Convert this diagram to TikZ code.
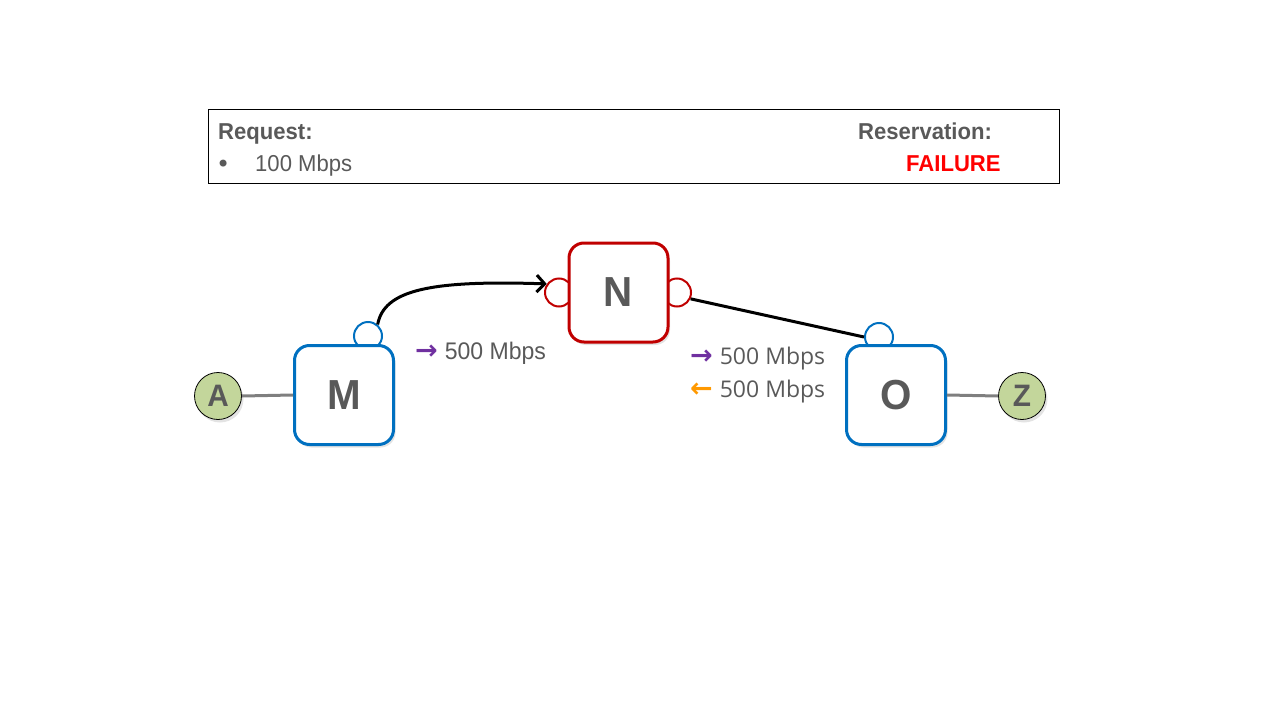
\documentclass[tikz,border=0pt]{standalone}
\usepackage{fontspec}
\setmainfont[FakeStretch=0.96]{Liberation Sans}
\newfontfamily\labelfont{Open Sans}
\newfontfamily\symfont{DejaVu Sans}
\usetikzlibrary{arrows.meta,shadows}

\definecolor{txtgray}{HTML}{595959}
\definecolor{nodeblue}{HTML}{0070C0}
\definecolor{nodered}{HTML}{C00000}
\definecolor{endgreen}{HTML}{C3D69B}
\definecolor{fwdpurple}{HTML}{7030A0}
\definecolor{revorange}{HTML}{FF9900}
\definecolor{linkgray}{HTML}{7F7F7F}

\newcommand{\dirarrow}[2]{{\color{#1}\symfont\bfseries\fontsize{27}{27}\selectfont #2}}

\tikzset{
  softshadow/.style={drop shadow={opacity=0.22, shadow xshift=2pt, shadow yshift=-3pt}},
  switchbox/.style={draw=#1, line width=3pt, fill=white, rounded corners=15pt,
    minimum width=99pt, minimum height=99pt, inner sep=0pt, softshadow,
    font=\fontsize{42}{42}\selectfont\bfseries, text=txtgray},
  port/.style={circle, draw=#1, line width=2pt, fill=white, minimum size=28pt, inner sep=0pt},
  endpoint/.style={circle, draw=black, line width=0.8pt, fill=endgreen, minimum size=47pt,
    inner sep=0pt, softshadow, font=\fontsize{31}{31}\selectfont\bfseries, text=txtgray},
  accesslink/.style={draw=linkgray, line width=3pt},
  trunk/.style={draw=black, line width=3pt},
  boxtext/.style={anchor=base west, inner sep=0pt, text=txtgray, font=\fontsize{23}{23}\selectfont},
  bwtext/.style={anchor=base west, inner sep=0pt, text=txtgray},
}

\begin{document}
\begin{tikzpicture}[x=1pt, y=-1pt]
  \useasboundingbox (0,0) rectangle (1280,720);

  % request / reservation panel
  \node[draw=black, line width=0.8pt, minimum width=851pt, minimum height=74pt, inner sep=0pt]
    (panel) at (633.5,146) {};
  \node[boxtext, font=\fontsize{23}{23}\selectfont\bfseries] (req) at (218,139) {Request:};
  \node[boxtext] (bullet) at (216,172) {\symfont\fontsize{24}{24}\selectfont •};
  \node[boxtext] (reqbw) at (255,171) {100 Mbps};
  \node[boxtext, font=\fontsize{23}{23}\selectfont\bfseries] (res) at (858,139) {Reservation:};
  \node[boxtext, text=red, font=\fontsize{23}{23}\selectfont\bfseries] (status) at (906,171) {FAILURE};

  % ports (drawn first so the switch boxes cover their lower halves)
  \node[port=nodeblue] (mp) at (368,336) {};
  \node[port=nodered] (nl) at (559,292.5) {};
  \node[port=nodered] (nr) at (677,292.5) {};
  \node[port=nodeblue] (op) at (879,337) {};

  % switches
  \node[switchbox=nodeblue] (M) at (344,395) {M};
  \node[switchbox=nodered] (N) at (618.5,292.5) {N};
  \node[switchbox=nodeblue] (O) at (896,395) {O};

  % end hosts
  \node[endpoint] (A) at (218,396) {A};
  \node[endpoint] (Z) at (1022,396) {Z};

  % links
  \draw[accesslink] (A.east) -- (M.west);
  \draw[accesslink] (O.east) -- (Z.west);
  \draw[trunk] (nr.-25) -- (op.west);
  \draw[trunk, -{Straight Barb[length=8pt, width=17pt]}]
    (mp.50) .. controls (384,290) and (430,280) .. (nl.145);

  % bandwidth labels
  \node[bwtext, font=\fontsize{24}{24}\selectfont] (bw1) at (415,359)
    {\dirarrow{fwdpurple}{→}\hspace{7pt}500 Mbps};
  \node[bwtext, font=\labelfont\fontsize{23}{23}\selectfont] (bw2) at (690,364)
    {\dirarrow{fwdpurple}{→}\hspace{7pt}500 Mbps};
  \node[bwtext, font=\labelfont\fontsize{23}{23}\selectfont] (bw3) at (690,397)
    {\dirarrow{revorange}{←}\hspace{7pt}500 Mbps};
\end{tikzpicture}
\end{document}
